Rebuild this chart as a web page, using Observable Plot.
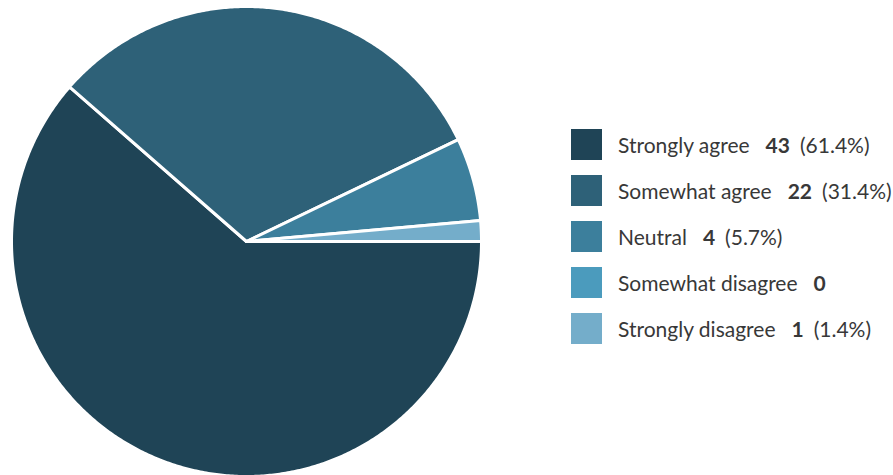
<!DOCTYPE html>
<html>
<head>
<meta charset="utf-8">
<script src="https://cdn.jsdelivr.net/npm/d3@7"></script>
<script src="https://cdn.jsdelivr.net/npm/@observablehq/plot@0.6"></script>
<style>
  html, body { margin: 0; padding: 0; background: #fff; overflow: hidden; }
  body { width: 893px; height: 475px; position: relative; font-family: Lato, "Open Sans", sans-serif; }
  #chart { position: absolute; left: 0; top: 0; }
  #legend { position: absolute; left: 571px; top: 129px; }
  .row { display: flex; align-items: center; height: 31px; margin-bottom: 15px; font-size: 21px; color: #383838; white-space: nowrap; }
  .sw { width: 31px; height: 31px; margin-right: 16px; flex: none; }
  .num { font-weight: bold; margin-left: 16px; }
  .pct { margin-left: 10px; }
</style>
</head>
<body>
<div id="chart"></div>
<div id="legend"></div>
<script>
const categories = ["Strongly agree", "Somewhat agree", "Neutral", "Somewhat disagree", "Strongly disagree"];
const counts = [43, 22, 4, 0, 1];
const percentLabels = ["(61.4%)", "(31.4%)", "(5.7%)", "", "(1.4%)"];
const colors = ["#1f4456", "#2e6178", "#3c7f9c", "#4b9bbd", "#74adca"];

const total = d3.sum(counts);
// Build slice outlines (center -> arc -> center), clockwise on screen starting at 3 o'clock
const points = [];
let acc = 0;
categories.forEach((cat, i) => {
  const v = counts[i];
  if (v <= 0) return;
  const a0 = acc / total * 2 * Math.PI;
  acc += v;
  const a1 = acc / total * 2 * Math.PI;
  const n = Math.max(2, Math.ceil((a1 - a0) / (Math.PI / 360)));
  points.push({cat, x: 0, y: 0});
  for (let k = 0; k <= n; k++) {
    const a = a0 + (a1 - a0) * k / n;
    points.push({cat, x: Math.cos(a), y: -Math.sin(a)});
  }
  points.push({cat, x: 0, y: 0});
});

const chart = Plot.plot({
  width: 492,
  height: 482,
  margin: 0,
  x: {domain: [-1, 1], range: [11, 481], axis: null},
  y: {domain: [-1, 1], range: [476, 6], axis: null},
  color: {domain: categories, range: colors},
  marks: [
    Plot.line(points, {x: "x", y: "y", z: "cat", fill: "cat", stroke: "white", strokeWidth: 3, strokeLinejoin: "round", curve: "linear"})
  ]
});
document.getElementById("chart").appendChild(chart);

const legend = document.getElementById("legend");
categories.forEach((cat, i) => {
  const row = document.createElement("div");
  row.className = "row";
  row.innerHTML = `<span class="sw" style="background:${colors[i]}"></span><span>${cat}</span><span class="num">${counts[i]}</span>` +
    (percentLabels[i] ? `<span class="pct">${percentLabels[i]}</span>` : "");
  legend.appendChild(row);
});
</script>
</body>
</html>
